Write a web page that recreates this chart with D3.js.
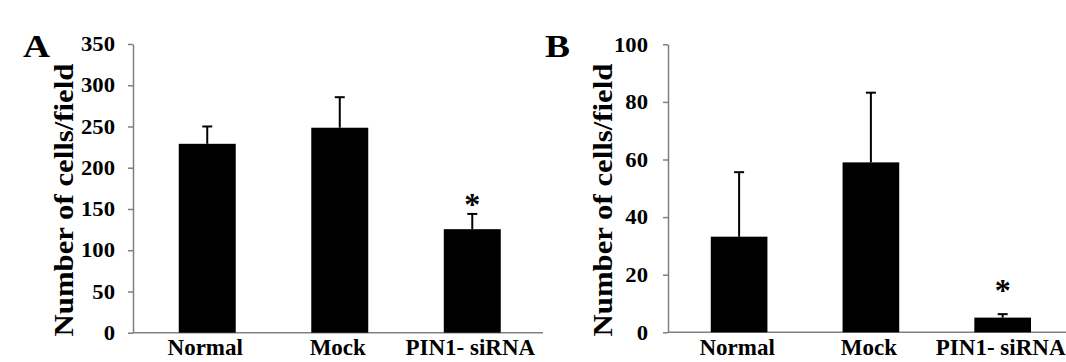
<!DOCTYPE html>
<html>
<head>
<meta charset="utf-8">
<script src="https://cdn.jsdelivr.net/npm/d3@7"></script>
<style>
  body { margin: 0; background: #fff; }
  svg { display: block; }
  text { font-family: "Liberation Serif", "Times New Roman", serif; font-weight: bold; fill: #000; }
</style>
</head>
<body>
<svg class="chart" width="1066" height="362"></svg>
<script>
// Data
let groups = ["Normal", "Mock", "PIN1- siRNA"];

let panelAMeans = [229, 248.5, 125.5];
let panelAErrors = [21, 37, 18.5];
let panelAStars = [null, null, 167];
let panelATicks = [0, 50, 100, 150, 200, 250, 300, 350];

let panelBMeans = [33.2, 59.0, 5.1];
let panelBErrors = [22.4, 24.2, 1.2];
let panelBStars = [null, null, 17.6];
let panelBTicks = [0, 20, 40, 60, 80, 100];

let axisColor = "#808080";

/**
 *   svg: d3 selection of the svg
 *   attr: layout and data of one panel
 *   returns void, draws one bar panel with upper error bars.
 */
function drawPanel(svg, attr) {
    let g = svg.append("g");

    let xScale = d3.scaleBand()
        .domain(groups)
        .range([attr.left, attr.right])
        .paddingInner(0.57)
        .paddingOuter(attr.paddingOuter)
        .align(attr.align);

    let yScale = d3.scaleLinear()
        .domain([0, attr.max])
        .range([attr.bottom, attr.top]);

    // Draw y axis.
    let yAxis = g.append("g")
        .attr("transform", "translate(" + attr.left + ",0)")
        .call(d3.axisLeft(yScale).tickValues(attr.ticks).tickSize(5).tickSizeOuter(0));
    yAxis.select(".domain").attr("stroke", axisColor).attr("stroke-width", 1.5);
    yAxis.selectAll(".tick line").attr("stroke", axisColor).attr("stroke-width", 1.5);
    yAxis.selectAll(".tick text")
        .attr("x", 0)
        .attr("transform", "translate(" + (-attr.labelPad) + ",0) scale(1.08,1)")
        .style("font-size", "21px")
        .style("font-family", "'Liberation Serif', serif")
        .style("font-weight", "bold")
        .attr("fill", "#000");

    // Draw x axis line.
    g.append("line")
        .attr("x1", attr.left)
        .attr("x2", attr.right)
        .attr("y1", yScale(0))
        .attr("y2", yScale(0))
        .attr("stroke", axisColor)
        .attr("stroke-width", 1.5);

    // Draw bars.
    g.selectAll(".bar")
        .data(attr.means)
        .enter()
        .append("rect")
        .attr("x", (d, i) => xScale(groups[i]))
        .attr("y", d => yScale(d))
        .attr("width", xScale.bandwidth())
        .attr("height", d => yScale(0) - yScale(d))
        .attr("fill", "#000");

    // Draw error bars (upper only).
    let capHalf = 5;
    attr.means.forEach((m, i) => {
        let cx = xScale(groups[i]) + xScale.bandwidth() / 2;
        let top = yScale(m + attr.errors[i]);
        g.append("line")
            .attr("x1", cx).attr("x2", cx)
            .attr("y1", yScale(m)).attr("y2", top)
            .attr("stroke", "#000").attr("stroke-width", 2);
        g.append("line")
            .attr("x1", cx - capHalf).attr("x2", cx + capHalf)
            .attr("y1", top).attr("y2", top)
            .attr("stroke", "#000").attr("stroke-width", 2);
        if (attr.stars[i] != null) {
            g.append("text")
                .attr("x", cx)
                .attr("y", yScale(attr.stars[i]))
                .attr("dy", "0.62em")
                .attr("text-anchor", "middle")
                .style("font-size", "32px")
                .text("*");
        }
        // Category label.
        g.append("text")
            .attr("x", cx - 2)
            .attr("y", 355)
            .attr("text-anchor", "middle")
            .style("font-size", "23px")
            .text(groups[i]);
    });

    // Axis title.
    g.append("text")
        .attr("transform", "translate(" + attr.titleX + ",200) rotate(-90) scale(1.14,1)")
        .attr("text-anchor", "middle")
        .style("font-size", "27px")
        .text("Number of cells/field");

    // Panel letter.
    g.append("text")
        .attr("transform", "translate(" + attr.letterX + ",57) scale(1.17,1)")
        .style("font-size", "32px")
        .text(attr.letter);
}

let svg = d3.select(".chart");

drawPanel(svg, {
    letter: "A", letterX: 23, titleX: 73,
    left: 133, right: 543, top: 44, bottom: 332.7,
    max: 350, ticks: panelATicks, labelPad: 18,
    paddingOuter: 0.332, align: 0.52,
    means: panelAMeans, errors: panelAErrors, stars: panelAStars
});

drawPanel(svg, {
    letter: "B", letterX: 545, titleX: 612,
    left: 668, right: 1066, top: 44.3, bottom: 332.3,
    max: 100, ticks: panelBTicks, labelPad: 20,
    paddingOuter: 0.295, align: 0.55,
    means: panelBMeans, errors: panelBErrors, stars: panelBStars
});
</script>
</body>
</html>
